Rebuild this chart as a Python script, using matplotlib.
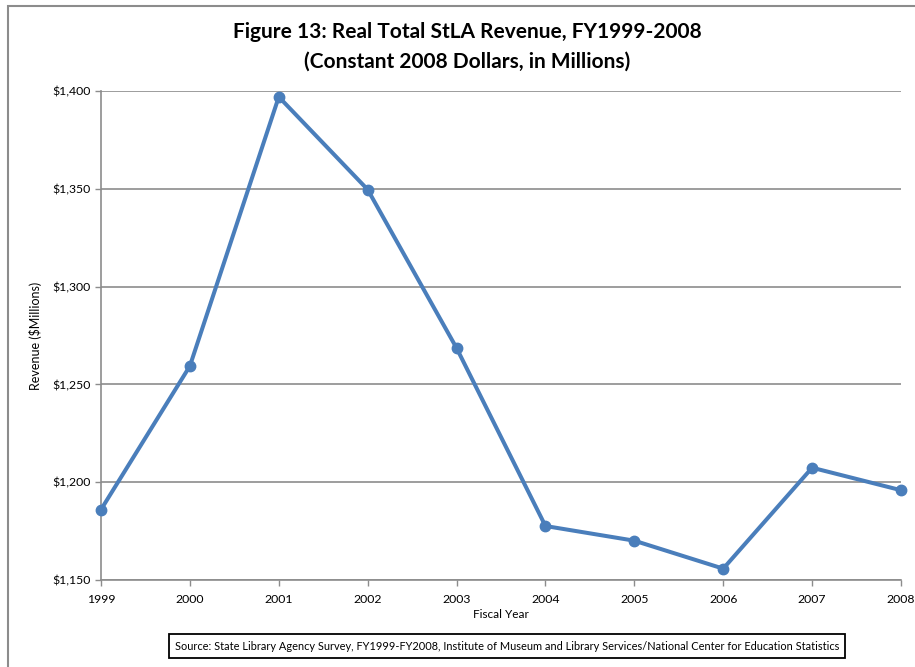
import matplotlib
matplotlib.use("Agg")
import matplotlib.pyplot as plt
from matplotlib.patches import Rectangle
from matplotlib.ticker import FuncFormatter

years = [1999, 2000, 2001, 2002, 2003, 2004, 2005, 2006, 2007, 2008]
revenue = [1186.0, 1259.4, 1397.0, 1349.6, 1268.6, 1177.6, 1170.1, 1155.8, 1207.4, 1195.9]
y_ticks = [1150, 1200, 1250, 1300, 1350, 1400]

plt.rcParams['font.family'] = ['Lato', 'DejaVu Sans']

fig = plt.figure(figsize=(9.15, 6.67), dpi=100)
ax = fig.add_axes([101/915, 1-580/667, 800/915, 489/667])

ax.plot(years, revenue, color='#4A7EBB', linewidth=2.9, marker='o', markersize=7.5,
        clip_on=False, zorder=3)

ax.set_xlim(1999, 2008)
ax.set_ylim(1150, 1400)
ax.set_xticks(years)
ax.set_yticks(y_ticks)
ax.yaxis.set_major_formatter(FuncFormatter(lambda v, p: f"${v:,.0f}"))
ax.grid(axis='y', color='#8C8C8C', linewidth=1.2)
ax.set_axisbelow(True)
for s in ['top', 'right']:
    ax.spines[s].set_visible(False)
for s in ['left', 'bottom']:
    ax.spines[s].set_color('#8C8C8C')
    ax.spines[s].set_linewidth(1.2)
ax.tick_params(axis='both', colors='#8C8C8C', labelcolor='black', labelsize=8.8,
               length=4, width=1)
ax.tick_params(axis='x', pad=6)
ax.set_xlabel('Fiscal Year', fontsize=8.5, labelpad=3)
ax.set_ylabel('Revenue ($Millions)', fontsize=9, labelpad=7)

fig.text(467/915, 1-32/667, 'Figure 13: Real Total StLA Revenue, FY1999-2008',
         ha='center', va='center', fontsize=15, fontweight='bold')
fig.text(467/915, 1-62/667, '(Constant 2008 Dollars, in Millions)',
         ha='center', va='center', fontsize=15, fontweight='bold')

fig.text(507/915, 1-646/667,
         'Source: State Library Agency Survey, FY1999-FY2008, Institute of Museum and Library Services/National Center for Education Statistics',
         ha='center', va='center', fontsize=7.9,
         bbox=dict(boxstyle='square,pad=0.55', facecolor='white', edgecolor='black', linewidth=1.3))

border = Rectangle((8/915, -0.1), 1.2, 0.1 + (1-6/667), transform=fig.transFigure,
                   fill=False, edgecolor='#8C8C8C', linewidth=1.5)
fig.add_artist(border)

fig.savefig('out.png', dpi=100)
